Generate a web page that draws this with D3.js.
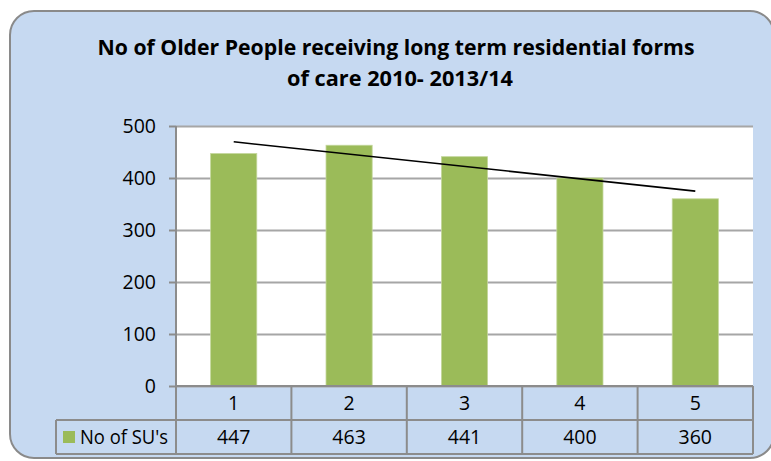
<!DOCTYPE html>
<html>
<head>
<meta charset="utf-8">
<script src="https://cdn.jsdelivr.net/npm/d3@7/dist/d3.min.js"></script>
<style>
  html, body { margin: 0; padding: 0; background: #ffffff; }
  svg { display: block; font-family: 'Open Sans', 'Liberation Sans', sans-serif; }
</style>
</head>
<body>
<svg id="chart" width="771" height="461"></svg>
<script>
// Chart data
const titleLines = ["No of Older People receiving long term residential forms", "of care 2010- 2013/14"];
const categories = ["1", "2", "3", "4", "5"];
const seriesName = "No of SU's";
const values = [447, 463, 441, 400, 360];
const yTicks = [0, 100, 200, 300, 400, 500];

const W = 771, H = 461;
const plot = { left: 176, right: 753, top: 126, bottom: 386 };
const rowH = 34;
const legendLeft = 56;

const svg = d3.select("#chart");

// Rounded chart-area background
svg.append("rect")
  .attr("x", 10).attr("y", 11)
  .attr("width", 764).attr("height", 447)
  .attr("rx", 24).attr("ry", 24)
  .attr("fill", "#c6d9f1")
  .attr("stroke", "#8a8a8a")
  .attr("stroke-width", 2);

// Title
const title = svg.append("g").attr("font-weight", "bold").attr("font-size", 21).attr("fill", "#000");
title.append("text").attr("x", 396).attr("y", 55).attr("text-anchor", "middle")
  .attr("textLength", 597).attr("lengthAdjust", "spacingAndGlyphs").text(titleLines[0]);
title.append("text").attr("x", 400).attr("y", 86).attr("text-anchor", "middle")
  .attr("textLength", 226).attr("lengthAdjust", "spacingAndGlyphs").text(titleLines[1]);

// Scales
const y = d3.scaleLinear().domain([0, 500]).range([plot.bottom, plot.top]);
const x = d3.scaleBand().domain(categories).range([plot.left, plot.right])
  .paddingInner(0.6).paddingOuter(0.3);
const col = d3.scaleBand().domain(categories).range([plot.left, plot.right]).padding(0);

// Plot area
svg.append("rect")
  .attr("x", plot.left).attr("y", plot.top)
  .attr("width", plot.right - plot.left).attr("height", plot.bottom - plot.top)
  .attr("fill", "#ffffff");

// Gridlines
const grid = svg.append("g").attr("transform", `translate(${plot.left},0)`)
  .call(d3.axisLeft(y).tickValues(yTicks).tickSize(-(plot.right - plot.left)).tickFormat(""));
grid.select(".domain").remove();
grid.selectAll("line").attr("stroke", "#a6a6a6").attr("stroke-width", 2);

// Bars
svg.append("g").selectAll("rect").data(values).join("rect")
  .attr("x", (d, i) => x(categories[i]))
  .attr("y", d => y(d))
  .attr("width", x.bandwidth())
  .attr("height", d => y(0) - y(d))
  .attr("fill", "#9bbb59")
  .attr("stroke", "#c3d69b")
  .attr("stroke-width", 0.8);

// Linear trendline (least squares over category index)
const n = values.length;
const xs = values.map((d, i) => i + 1);
const mx = d3.mean(xs), my = d3.mean(values);
const slope = d3.sum(xs, (xi, i) => (xi - mx) * (values[i] - my)) / d3.sum(xs, xi => (xi - mx) ** 2);
const icpt = my - slope * mx;
const center = c => x(c) + x.bandwidth() / 2;
svg.append("line")
  .attr("x1", center(categories[0])).attr("y1", y(icpt + slope * 1))
  .attr("x2", center(categories[n - 1])).attr("y2", y(icpt + slope * n))
  .attr("stroke", "#000").attr("stroke-width", 1.6);

// Y axis
const yAxis = svg.append("g").attr("transform", `translate(${plot.left},0)`)
  .call(d3.axisLeft(y).tickValues(yTicks).tickSize(7).tickPadding(13).tickFormat(d3.format("d")));
yAxis.select(".domain").attr("stroke", "#8c8c8c").attr("stroke-width", 2)
  .attr("d", `M0,${plot.top}V${plot.bottom + 2 * rowH}`);
yAxis.selectAll(".tick line").attr("stroke", "#8c8c8c").attr("stroke-width", 2);
yAxis.selectAll(".tick text").attr("font-size", 19.5).attr("fill", "#000")
  .attr("font-family", "'Open Sans', sans-serif").attr("dy", "0.35em");

// Data table
const table = svg.append("g");
const lineColor = "#8c8c8c";
const r1 = plot.bottom, r2 = plot.bottom + rowH, r3 = plot.bottom + 2 * rowH;
// Horizontal lines
table.append("line").attr("x1", plot.left).attr("x2", plot.right).attr("y1", r1).attr("y2", r1);
table.append("line").attr("x1", legendLeft).attr("x2", plot.right).attr("y1", r2).attr("y2", r2);
table.append("line").attr("x1", legendLeft).attr("x2", plot.right).attr("y1", r3).attr("y2", r3);
// Vertical lines
table.append("line").attr("x1", legendLeft).attr("x2", legendLeft).attr("y1", r2).attr("y2", r3);
categories.forEach(c => {
  const xr = col(c) + col.bandwidth();
  table.append("line").attr("x1", xr).attr("x2", xr).attr("y1", r1).attr("y2", r3);
});
table.selectAll("line").attr("stroke", lineColor).attr("stroke-width", 2);

// Header row (categories)
table.append("g").selectAll("text").data(categories).join("text")
  .attr("x", c => col(c) + col.bandwidth() / 2)
  .attr("y", r1 + rowH / 2)
  .attr("dy", "0.35em")
  .attr("text-anchor", "middle")
  .attr("font-size", 19.5)
  .text(c => c);

// Value row
table.append("g").selectAll("text").data(values).join("text")
  .attr("x", (d, i) => col(categories[i]) + col.bandwidth() / 2)
  .attr("y", r2 + rowH / 2)
  .attr("dy", "0.35em")
  .attr("text-anchor", "middle")
  .attr("font-size", 19.5)
  .text(d => d);

// Legend key
table.append("rect").attr("x", 63).attr("y", r2 + rowH / 2 - 6).attr("width", 12).attr("height", 12)
  .attr("fill", "#9bbb59");
table.append("text").attr("x", 80).attr("y", r2 + rowH / 2).attr("dy", "0.35em")
  .attr("font-size", 19.5).attr("textLength", 88).attr("lengthAdjust", "spacingAndGlyphs")
  .text(seriesName);
</script>
</body>
</html>
